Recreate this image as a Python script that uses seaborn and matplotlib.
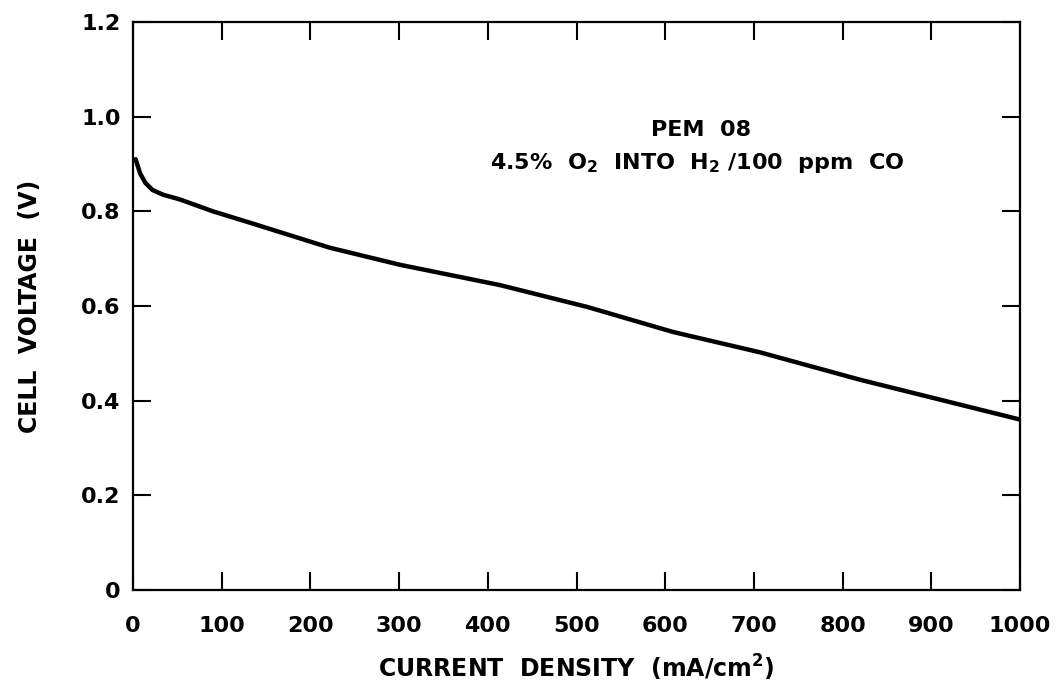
import matplotlib
matplotlib.use("Agg")
import matplotlib.pyplot as plt
import seaborn as sns
import pandas as pd

# polarization curve
current_density = [3, 8, 14, 22, 34, 53, 90, 130, 222, 301, 414, 512, 609, 707, 820, 1000]
cell_voltage = [0.91, 0.88, 0.86, 0.845, 0.835, 0.825, 0.80, 0.777, 0.723, 0.687,
                0.644, 0.598, 0.545, 0.502, 0.444, 0.36]

x_ticks = [0, 100, 200, 300, 400, 500, 600, 700, 800, 900, 1000]
y_ticks = [0, 0.2, 0.4, 0.6, 0.8, 1.0, 1.2]
y_tick_labels = ["0", "0.2", "0.4", "0.6", "0.8", "1.0", "1.2"]

df = pd.DataFrame({"Current Density": current_density, "Cell Voltage": cell_voltage})

sns.set_theme(style="ticks")
plt.rcParams["font.family"] = ["DejaVu Sans"]
plt.rcParams["font.weight"] = "bold"
plt.rcParams["axes.labelweight"] = "bold"
plt.rcParams["text.color"] = "black"
plt.rcParams["axes.labelcolor"] = "black"
plt.rcParams["mathtext.default"] = "bf"

fig = plt.figure(figsize=(10.64, 6.89), dpi=100)
ax = fig.add_axes([0.125, 0.1437, 0.8337, 0.8244])

sns.lineplot(data=df, x="Current Density", y="Cell Voltage", ax=ax,
             color="black", linewidth=3.2)

ax.set_xlim(0, 1000)
ax.set_ylim(0, 1.2)
ax.set_xticks(x_ticks)
ax.set_yticks(y_ticks)
ax.set_yticklabels(y_tick_labels)

for s in ax.spines.values():
    s.set_visible(True)
    s.set_linewidth(1.6)
    s.set_color("black")

ax.tick_params(axis="both", which="major", direction="in", length=13, width=1.5,
               top=True, right=True, labelsize=16, colors="black")
ax.tick_params(axis="x", pad=19)
ax.tick_params(axis="y", pad=9)

ax.set_xlabel(r"CURRENT  DENSITY  (mA/cm$^2$)", fontsize=17, labelpad=12)
ax.set_ylabel("CELL  VOLTAGE  (V)", fontsize=17, labelpad=28)

ax.text(0.64, 0.81, "PEM  08", transform=ax.transAxes, ha="center",
        va="center", fontsize=16)
ax.text(0.636, 0.752, r"4.5%  O$_2$  INTO  H$_2$ /100  ppm  CO", transform=ax.transAxes,
        ha="center", va="center", fontsize=16)

fig.savefig("out.png", dpi=100, facecolor="white")
